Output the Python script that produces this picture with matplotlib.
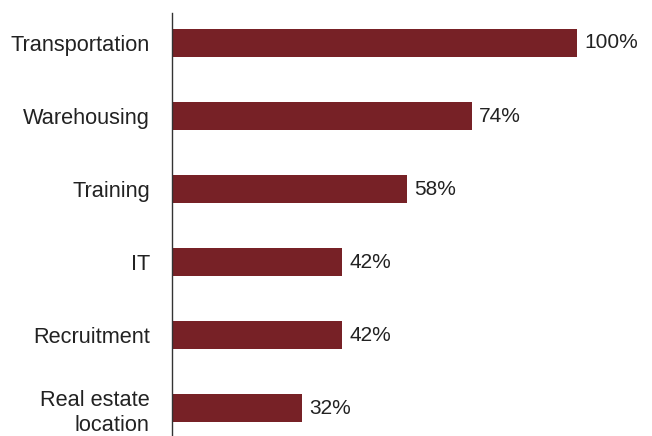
import matplotlib
matplotlib.use("Agg")
import matplotlib.pyplot as plt

categories = ["Transportation", "Warehousing", "Training", "IT", "Recruitment", "Real estate\nlocation"]
values = [100, 74, 58, 42, 42, 32]
value_labels = ["100%", "74%", "58%", "42%", "42%", "32%"]

bar_color = "#772126"
text_color = "#222222"

W, H = 652, 436
fig = plt.figure(figsize=(W / 100, H / 100), dpi=100)
ax = fig.add_axes([172 / W, 0, (W - 172) / W, (H - 13) / H])

positions = list(range(len(categories)))
ax.barh(positions, values, height=0.38, color=bar_color)

for y, v, lab in zip(positions, values, value_labels):
    ax.annotate(lab, xy=(v, y), xytext=(5.5, 0), textcoords="offset points",
                ha="left", va="center", fontsize=15, color=text_color,
                family="Liberation Sans")

ax.set_xlim(0, (W - 172) / 4.05)
ax.set_ylim(5.38, -0.41)

ax.set_yticks(positions)
ax.set_yticklabels(categories, fontsize=15.7, color=text_color,
                   family="Liberation Sans", linespacing=1.28)
ax.tick_params(axis="y", length=0, pad=16)
ax.set_xticks([])

for side in ("top", "right", "bottom"):
    ax.spines[side].set_visible(False)
ax.spines["left"].set_color("#333333")
ax.spines["left"].set_linewidth(1.0)

fig.savefig("out.png", dpi=100)
